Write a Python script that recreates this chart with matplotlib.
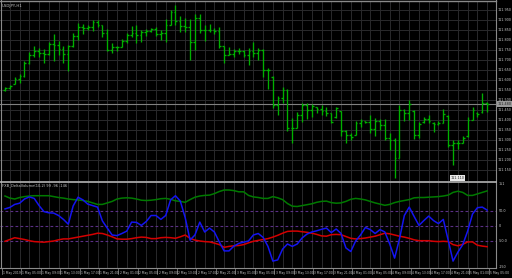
import matplotlib
matplotlib.use("Agg")
import matplotlib.pyplot as plt
import numpy as np
from matplotlib.transforms import blended_transform_factory as btf
from matplotlib.lines import Line2D

W, H = 512, 278

opens = [111.550, 111.560, 111.580, 111.605, 111.620, 111.685, 111.725, 111.745, 111.735, 111.730,
         111.780, 111.775, 111.755, 111.730, 111.770, 111.820, 111.865, 111.860, 111.865, 111.890,
         111.875, 111.835, 111.750, 111.765, 111.765, 111.795, 111.825, 111.835, 111.825, 111.840,
         111.845, 111.855, 111.830, 111.835, 111.875, 111.940, 111.895, 111.870, 111.865, 111.790,
         111.910, 111.850, 111.850, 111.850, 111.845, 111.770, 111.725, 111.730, 111.745, 111.745,
         111.725, 111.745, 111.735, 111.750, 111.650, 111.615, 111.475, 111.510, 111.550, 111.360,
         111.360, 111.425, 111.475, 111.450, 111.465, 111.455, 111.445, 111.435, 111.415, 111.445,
         111.345, 111.325, 111.325, 111.385, 111.395, 111.390, 111.355, 111.395, 111.375, 111.310,
         111.300, 111.210, 111.450, 111.435, 111.445, 111.325, 111.390, 111.405, 111.385, 111.380,
         111.385, 111.420, 111.275, 111.285, 111.285, 111.320, 111.400, 111.435, 111.440, 111.485]

highs = [111.565, 111.575, 111.615, 111.630, 111.695, 111.740, 111.770, 111.760, 111.755, 111.790,
         111.830, 111.795, 111.770, 111.775, 111.835, 111.885, 111.880, 111.875, 111.900, 111.900,
         111.875, 111.855, 111.785, 111.770, 111.805, 111.835, 111.870, 111.875, 111.850, 111.855,
         111.860, 111.865, 111.850, 111.905, 111.950, 111.975, 111.920, 111.910, 111.905, 111.930,
         111.930, 111.875, 111.880, 111.860, 111.865, 111.770, 111.765, 111.755, 111.760, 111.750,
         111.760, 111.790, 111.760, 111.755, 111.660, 111.620, 111.520, 111.565, 111.555, 111.410,
         111.440, 111.485, 111.485, 111.480, 111.465, 111.475, 111.465, 111.435, 111.465, 111.445,
         111.350, 111.335, 111.395, 111.405, 111.395, 111.425, 111.410, 111.405, 111.405, 111.335,
         111.310, 111.475, 111.455, 111.500, 111.450, 111.390, 111.415, 111.425, 111.390, 111.395,
         111.455, 111.425, 111.300, 111.300, 111.320, 111.415, 111.465, 111.440, 111.535, 111.490]

lows = [111.545, 111.555, 111.580, 111.585, 111.615, 111.680, 111.715, 111.715, 111.685, 111.725,
        111.695, 111.725, 111.685, 111.645, 111.765, 111.800, 111.830, 111.850, 111.845, 111.865,
        111.815, 111.745, 111.735, 111.745, 111.765, 111.785, 111.815, 111.785, 111.790, 111.820,
        111.840, 111.820, 111.800, 111.790, 111.875, 111.875, 111.840, 111.840, 111.700, 111.750,
        111.835, 111.795, 111.840, 111.830, 111.760, 111.685, 111.725, 111.715, 111.730, 111.715,
        111.675, 111.715, 111.700, 111.615, 111.555, 111.460, 111.425, 111.485, 111.345, 111.285,
        111.360, 111.390, 111.405, 111.415, 111.435, 111.425, 111.420, 111.385, 111.410, 111.320,
        111.285, 111.300, 111.325, 111.365, 111.385, 111.335, 111.320, 111.350, 111.300, 111.250,
        111.110, 111.210, 111.395, 111.400, 111.305, 111.310, 111.385, 111.385, 111.340, 111.375,
        111.385, 111.265, 111.175, 111.255, 111.285, 111.315, 111.400, 111.415, 111.435, 111.440]

closes = [111.560, 111.570, 111.605, 111.620, 111.685, 111.725, 111.745, 111.735, 111.730, 111.780,
          111.775, 111.755, 111.730, 111.770, 111.820, 111.865, 111.860, 111.865, 111.890, 111.875,
          111.835, 111.750, 111.765, 111.765, 111.795, 111.825, 111.835, 111.825, 111.840, 111.845,
          111.855, 111.830, 111.835, 111.875, 111.940, 111.895, 111.870, 111.865, 111.790, 111.910,
          111.850, 111.850, 111.850, 111.845, 111.770, 111.725, 111.730, 111.745, 111.745, 111.725,
          111.745, 111.735, 111.750, 111.650, 111.650, 111.475, 111.510, 111.550, 111.360, 111.360,
          111.425, 111.475, 111.450, 111.470, 111.455, 111.445, 111.435, 111.390, 111.460, 111.345,
          111.325, 111.315, 111.385, 111.395, 111.390, 111.355, 111.395, 111.375, 111.310, 111.300,
          111.210, 111.450, 111.435, 111.480, 111.325, 111.380, 111.405, 111.395, 111.380, 111.385,
          111.430, 111.275, 111.285, 111.285, 111.310, 111.400, 111.450, 111.430, 111.485, 111.480]

blue_line = [57, 62, 72, 76, 90, 97, 92, 68, 48, 44,
             43, 35, 22, 6, 67, 96, 87, 73, 68, 63,
             17, -7, -30, -32, -25, -17, 13, 12, 2, 15,
             35, 35, 22, 35, 87, 101, 83, 28, -47, -30,
             13, -20, -7, -20, -53, -83, -83, -67, -58, -54,
             -50, -30, -25, -38, -68, -117, -113, -77, -60, -68,
             -60, -40, -27, -20, -16, -11, -7, -22, -10, -25,
             -73, -85, -50, -30, -5, -12, -25, -12, -20, -60,
             -107, -43, 35, 63, 32, 2, 18, 33, 18, 8,
             22, -47, -117, -87, -62, -17, 40, 61, 63, 53]

green_line = [100, 93, 90, 95, 98, 100, 101, 101, 101, 101,
              98, 95, 93, 90, 88, 87, 85, 82, 77, 72,
              72, 77, 82, 90, 93, 94, 93, 90, 86, 85,
              86, 88, 91, 92, 89, 84, 82, 79, 88, 96,
              100, 102, 103, 108, 115, 120, 120, 118, 114, 114,
              102, 97, 95, 92, 92, 98, 94, 88, 75, 66,
              65, 68, 71, 74, 79, 82, 83, 78, 76, 77,
              82, 89, 92, 90, 87, 82, 77, 73, 69, 72,
              78, 82, 85, 88, 94, 95, 95, 96, 97, 98,
              100, 103, 112, 116, 112, 102, 102, 107, 112, 117]

red_line = [-51, -45, -39, -42, -45, -49, -52, -53, -54, -52,
            -50, -46, -43, -43, -40, -37, -34, -31, -28, -24,
            -25, -30, -36, -43, -44, -44, -42, -39, -37, -38,
            -42, -42, -39, -38, -39, -41, -36, -30, -41, -47,
            -50, -52, -53, -57, -62, -71, -68, -66, -65, -62,
            -56, -51, -48, -45, -42, -37, -31, -24, -18, -17,
            -17, -19, -21, -24, -28, -33, -34, -29, -28, -29,
            -35, -41, -43, -42, -40, -37, -34, -29, -24, -26,
            -30, -34, -37, -41, -46, -49, -49, -49, -51, -52,
            -51, -52, -62, -66, -61, -53, -53, -64, -67, -69]

price_ticks = [111.950, 111.900, 111.850, 111.800, 111.750, 111.700, 111.650, 111.600, 111.550,
               111.500, 111.450, 111.400, 111.350, 111.300, 111.250, 111.200, 111.150]

time_labels = ["1 May 2019", "1 May 05:00", "1 May 09:00", "1 May 13:00", "1 May 17:00",
               "1 May 21:00", "2 May 01:00", "2 May 05:00", "2 May 09:00", "2 May 13:00",
               "2 May 17:00", "2 May 21:00", "3 May 01:00", "3 May 05:00", "3 May 09:00",
               "3 May 13:00", "3 May 17:00", "3 May 21:00", "4 May 01:00", "4 May 05:00",
               "4 May 09:00", "4 May 13:00", "4 May 17:00", "4 May 21:00", "5 May 01:00",
               "5 May 05:00"]

levels = [50, 0, -50]
bid_price = 111.480
low_price = 111.110
ind_scale_labels = [("151", 140), ("50.0", 50), ("0", 0), ("-50.0", -50), ("-150", -136)]

BAR = '#00b000'
GRID = '#2a2a2c'
TXT = '#c8c8c8'

fig = plt.figure(figsize=(W / 100, H / 100), dpi=100, facecolor='black')


def px_axes(x0, y0, x1, y1):
    return fig.add_axes([x0 / W, 1 - y1 / H, (x1 - x0) / W, (y1 - y0) / H])


n = len(closes)
x = np.arange(n)
xlim = (-5 / 4.87, (496 - 5) / 4.87)

ax1 = px_axes(0, 1, 496, 181)
ax2 = px_axes(0, 182, 496, 268)
for ax in (ax1, ax2):
    ax.set_facecolor('black')
    ax.set_xlim(*xlim)
    ax.set_xticks([])
    ax.set_yticks([])
    for s in ax.spines.values():
        s.set_visible(False)
    for j in range(1, 101, 2):
        ax.axvline(j, color=GRID, lw=0.7, zorder=0)

ax1.set_ylim(111.095, 111.995)
for p in price_ticks:
    ax1.axhline(p, color=GRID, lw=0.7, zorder=0)

# OHLC bars
ax1.vlines(x, lows, highs, color=BAR, lw=0.95, zorder=3)
ax1.hlines(opens, x - 0.36, x, color=BAR, lw=0.95, zorder=3)
ax1.hlines(closes, x, x + 0.36, color=BAR, lw=0.95, zorder=3)

ax1.axhline(bid_price, color='#808080', lw=0.8, zorder=2)

tr1 = btf(ax1.transAxes, ax1.transData)
for p in price_ticks:
    ax1.text(1.004, p, f"{p:.3f}", transform=tr1, fontsize=2.4, color=TXT,
             va='center', ha='left', clip_on=False)
ax1.text(1.003, bid_price, f"{bid_price:.3f}", transform=tr1, fontsize=2.4, color='#202020',
         va='center', ha='left', clip_on=False,
         bbox=dict(boxstyle='square,pad=0.25', fc='#9a9a9a', ec='none'))

# low marker label
ax1.text(91.5, low_price, f"{low_price:.3f}", fontsize=2.4, color='#202020', va='center', ha='left',
         bbox=dict(boxstyle='square,pad=0.2', fc='#e8e8e8', ec='none'), zorder=5)

ax1.text(0.004, 0.985, "USDJPY,H1", transform=ax1.transAxes, fontsize=2.8, color=TXT,
         va='top', ha='left')

# indicator panel
ax2.set_ylim(-140, 146.7)
for lv in levels:
    ax2.axhline(lv, color='#5b2f86', lw=0.8, ls=(0, (2.5, 2)), zorder=1)
ax2.plot(x, green_line, color='#007a00', lw=1.1, zorder=3)
ax2.plot(x, red_line, color='#d40000', lw=1.1, zorder=3)
ax2.plot(x, blue_line, color='#1414f0', lw=1.1, zorder=4)
ax2.text(0.004, 0.98, "FXB_DeltaVolume(10,2) 99 -96 -146", transform=ax2.transAxes,
         fontsize=2.6, color=TXT, va='top', ha='left')
tr2 = btf(ax2.transAxes, ax2.transData)
for lab, v in ind_scale_labels:
    ax2.text(1.006, v, lab, transform=tr2, fontsize=2.4, color=TXT, va='center', ha='left',
             clip_on=False)

# time labels
trx = btf(ax2.transData, ax2.transAxes)
for k, lab in enumerate(time_labels):
    bi = 4 * k
    ax2.text(bi - 0.45, -0.04, lab, transform=trx, fontsize=2.2, color=TXT,
             va='top', ha='left', clip_on=False)
    ax2.add_line(Line2D([bi - 0.7, bi - 0.7], [-0.0, -0.07], transform=trx, color='#909090',
                        lw=0.5, clip_on=False))

# frame lines
def fline(x0, y0, x1, y1, c, lw):
    fig.add_artist(Line2D([x0 / W, x1 / W], [1 - y0 / H, 1 - y1 / H], color=c, lw=lw))

fline(0, 0.5, 496, 0.5, '#8a8a8a', 1.0)
fline(0.5, 0, 0.5, 268, '#8a8a8a', 0.8)
fline(496, 0, 496, 268, '#8a8a8a', 0.8)
fline(0, 181.5, 496, 181.5, '#b4b4b4', 1.2)
fline(0, 268.3, 496, 268.3, '#8a8a8a', 0.8)

fig.savefig('out.png', dpi=100, facecolor='black')
